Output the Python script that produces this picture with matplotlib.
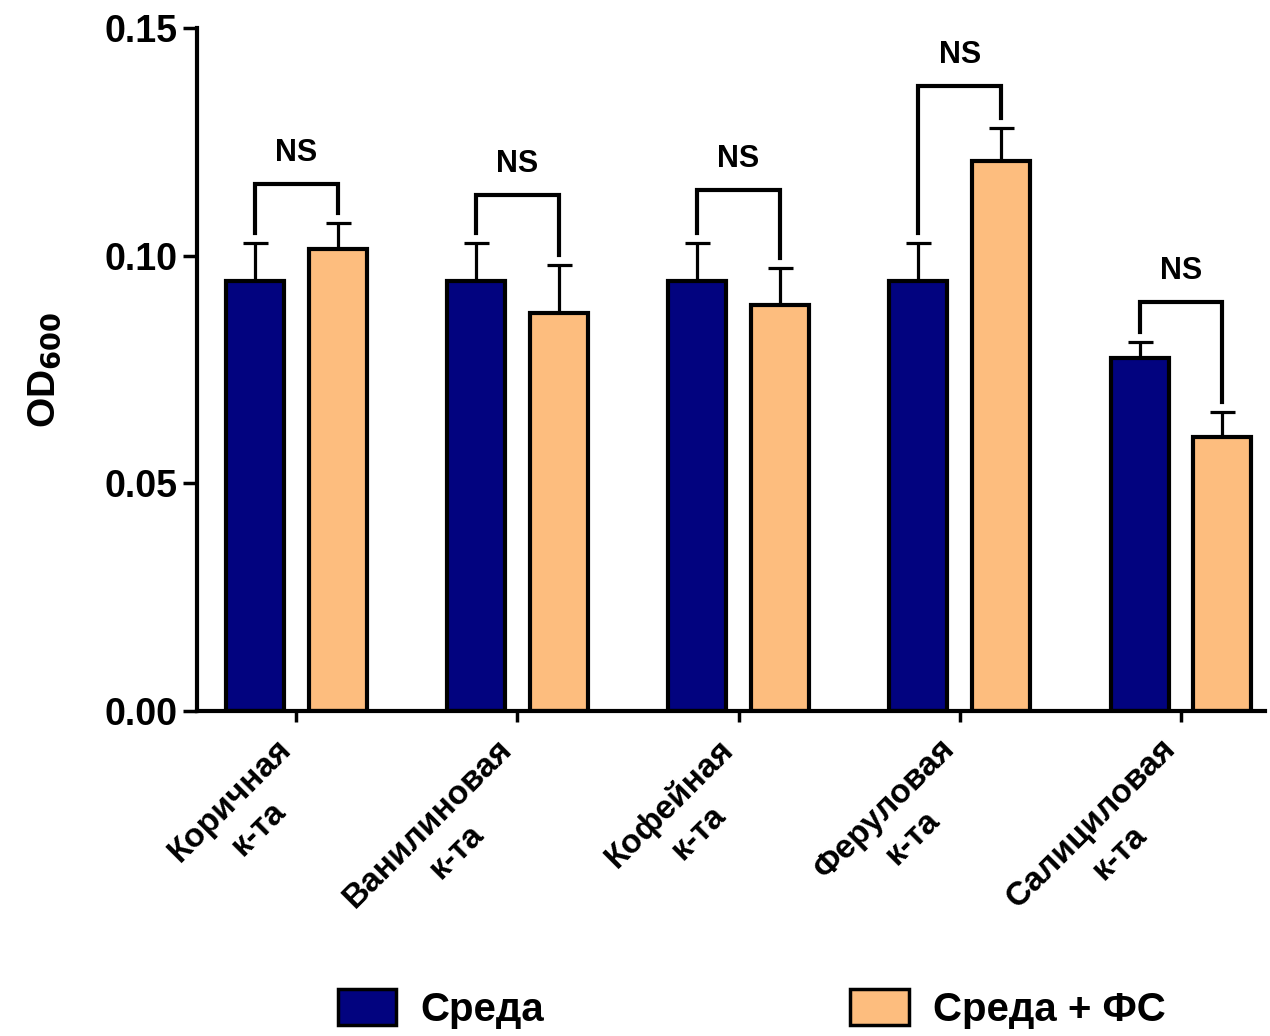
import matplotlib
matplotlib.use("Agg")
import matplotlib.pyplot as plt
import matplotlib.transforms as mtransforms
from matplotlib.patches import Patch
import numpy as np

plt.rcParams['font.family'] = ['Liberation Sans', 'DejaVu Sans']
plt.rcParams['font.weight'] = 'bold'

# data
categories = ['Коричная\nк-та', 'Ванилиновая\nк-та', 'Кофейная\nк-та',
              'Феруловая\nк-та', 'Салициловая\nк-та']
sreda = [0.0944, 0.0944, 0.0944, 0.0944, 0.0775]
sreda_err = [0.0084, 0.0084, 0.0084, 0.0084, 0.0035]
sreda_fs = [0.1015, 0.0874, 0.0892, 0.1208, 0.0602]
sreda_fs_err = [0.0057, 0.0105, 0.0081, 0.0072, 0.0055]
bracket_y = [0.1157, 0.1133, 0.1144, 0.1373, 0.0898]
bracket_text = ['NS', 'NS', 'NS', 'NS', 'NS']

blue = '#02037f'
peach = '#fdbd7e'

fig = plt.figure(figsize=(12.7, 10.36), dpi=100)
ax = fig.add_axes([0.155, 0.3137, 0.841, 0.6593])

x = np.arange(len(categories))
off = 0.187
w = 0.262
ekw = dict(elinewidth=2.3, capthick=2.3, ecolor='black')

ax.bar(x - off, sreda, w, color=blue, edgecolor='black', linewidth=3,
       zorder=2)
ax.bar(x + off, sreda_fs, w, color=peach, edgecolor='black', linewidth=3,
       zorder=2)
ax.errorbar(x - off, sreda, yerr=[np.zeros(5), sreda_err], fmt='none',
            capsize=9, zorder=1, **ekw)
ax.errorbar(x + off, sreda_fs, yerr=[np.zeros(5), sreda_fs_err], fmt='none',
            capsize=9, zorder=1, **ekw)

# significance brackets
gap = 0.0022
for i in range(len(categories)):
    yl = sreda[i] + sreda_err[i] + gap
    yr = sreda_fs[i] + sreda_fs_err[i] + gap
    yb = bracket_y[i]
    ax.plot([x[i] - off, x[i] - off, x[i] + off, x[i] + off],
            [yl, yb, yb, yr], color='black', lw=3, solid_joinstyle='miter',
            zorder=3)
    ax.text(x[i], yb + 0.0035, bracket_text[i], ha='center', va='bottom',
            fontsize=22, fontweight='bold')

ax.set_xlim(-0.45, 4.38)
ax.set_ylim(0, 0.15)
ax.set_yticks([0.00, 0.05, 0.10, 0.15])
ax.set_yticklabels(['0.00', '0.05', '0.10', '0.15'], fontsize=27,
                   fontweight='bold')
ax.set_xticks(x)
ax.set_xticklabels([])

# rotated category labels, shifted a little left of the ticks
shift = mtransforms.ScaledTranslation(-0.21, -0.22, fig.dpi_scale_trans)
for i, c in enumerate(categories):
    ax.text(x[i], 0, c, transform=ax.get_xaxis_transform() + shift,
            rotation=45, ha='right', va='top', rotation_mode='anchor',
            multialignment='center', fontsize=24, fontweight='bold',
            linespacing=1.4)

ax.tick_params(axis='y', length=10, width=2.5, pad=4)
ax.tick_params(axis='x', length=8, width=2.5)
ax.set_ylabel('OD$_{\\mathbf{600}}$', fontsize=28, fontweight='bold',
              labelpad=30)

for s in ['top', 'right']:
    ax.spines[s].set_visible(False)
for s in ['left', 'bottom']:
    ax.spines[s].set_linewidth(3)

handles = [Patch(facecolor=blue, edgecolor='black', linewidth=2.5, label='Среда'),
           Patch(facecolor=peach, edgecolor='black', linewidth=2.5,
                 label='Среда + ФС')]
fig.legend(handles=handles, loc='lower center', bbox_to_anchor=(0.592, -0.028),
           ncol=2, frameon=False, handlelength=1.45,
           handleheight=1.0, columnspacing=7.6, handletextpad=0.6,
           prop={'weight': 'bold', 'size': 29})

fig.savefig('out.png', dpi=100)
